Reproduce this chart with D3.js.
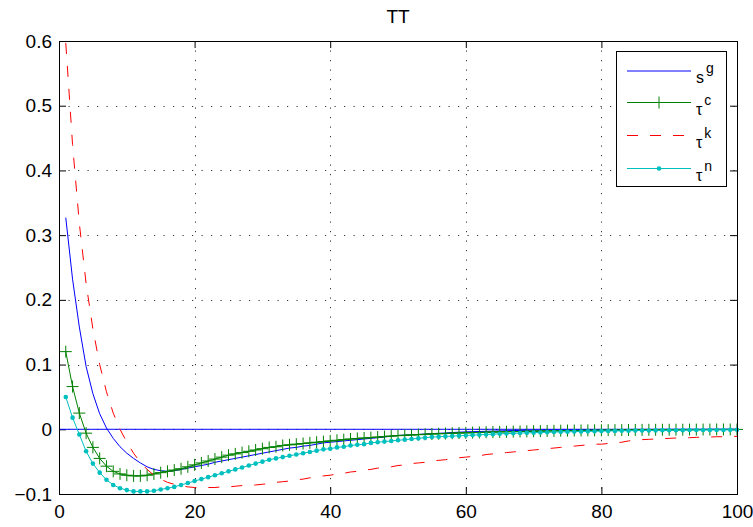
<!DOCTYPE html>
<html>
<head>
<meta charset="utf-8">
<script src="https://cdn.jsdelivr.net/npm/d3@7"></script>
<style>
  body { margin: 0; background: #fff; }
  text { font-family: "Liberation Sans", Arial, sans-serif; fill: #000; }
</style>
</head>
<body>
<div class="graph"></div>
<script>
const width = 753;
const height = 527;
const margin = { top: 41, right: 16, bottom: 33, left: 59 };

const title = "TT";
const xTicks = [0, 20, 40, 60, 80, 100];
const yTicks = [-0.1, 0, 0.1, 0.2, 0.3, 0.4, 0.5, 0.6];

// responses, periods 1..100
const sg = [
  0.327, 0.232, 0.158, 0.097, 0.055, 0.024, 0.002, -0.014, -0.027, -0.037,
  -0.045, -0.052, -0.058, -0.062, -0.064, -0.065, -0.064, -0.062, -0.06, -0.058,
  -0.056, -0.054, -0.051, -0.049, -0.047, -0.045, -0.043, -0.041, -0.039, -0.037,
  -0.035, -0.033, -0.031, -0.029, -0.028, -0.026, -0.025, -0.023, -0.021, -0.02,
  -0.019, -0.018, -0.017, -0.016, -0.015, -0.014, -0.013, -0.012, -0.0105, -0.0095,
  -0.009, -0.0085, -0.008, -0.0072, -0.0067, -0.0062, -0.0057, -0.005, -0.0045, -0.004,
  -0.0037, -0.0034, -0.0031, -0.0028, -0.0025, -0.0022, -0.002, -0.0018, -0.0016, -0.0014,
  -0.0012, -0.0011, -0.001, -0.0009, -0.0008, -0.0007, -0.0006, -0.0005, -0.0005, -0.0004,
  -0.0004, -0.0003, -0.0003, -0.0003, -0.0002, -0.0002, -0.0002, -0.0002, -0.0001, -0.0001,
  -0.0001, -0.0001, -0.0001, -0.0001, -0.0001, 0, 0, 0, 0, 0
];
const tc = [
  0.12, 0.066, 0.025, -0.006, -0.028, -0.045, -0.057, -0.065, -0.069, -0.071,
  -0.072, -0.072, -0.071, -0.069, -0.067, -0.065, -0.063, -0.061, -0.058, -0.055,
  -0.052, -0.049, -0.046, -0.043, -0.04, -0.038, -0.036, -0.034, -0.032, -0.03,
  -0.028, -0.027, -0.025, -0.024, -0.023, -0.022, -0.021, -0.02, -0.019, -0.018,
  -0.017, -0.016, -0.015, -0.0142, -0.0135, -0.0128, -0.012, -0.0112, -0.0105, -0.0098,
  -0.0093, -0.0088, -0.0083, -0.0078, -0.0073, -0.0069, -0.0065, -0.0061, -0.0058, -0.0055,
  -0.0052, -0.0049, -0.0046, -0.0043, -0.004, -0.0038, -0.0036, -0.0034, -0.0032, -0.003,
  -0.0028, -0.0026, -0.0024, -0.0022, -0.002, -0.0019, -0.0018, -0.0017, -0.0016, -0.0015,
  -0.0014, -0.0013, -0.0012, -0.0011, -0.001, -0.0009, -0.0008, -0.0008, -0.0007, -0.0007,
  -0.0006, -0.0006, -0.0005, -0.0005, -0.0004, -0.0004, -0.0003, -0.0003, -0.0003, -0.0002
];
const tk = [
  0.597, 0.44, 0.318, 0.225, 0.155, 0.1, 0.058, 0.025, 0, -0.02,
  -0.037, -0.051, -0.062, -0.071, -0.077, -0.082, -0.085, -0.087, -0.089, -0.09,
  -0.09, -0.09, -0.09, -0.089, -0.089, -0.088, -0.087, -0.087, -0.086, -0.085,
  -0.084, -0.082, -0.081, -0.08, -0.078, -0.077, -0.075, -0.074, -0.072, -0.071,
  -0.069, -0.068, -0.066, -0.065, -0.063, -0.062, -0.06, -0.059, -0.058, -0.056,
  -0.055, -0.053, -0.052, -0.051, -0.049, -0.048, -0.047, -0.045, -0.044, -0.043,
  -0.042, -0.041, -0.039, -0.038, -0.037, -0.036, -0.035, -0.034, -0.033, -0.032,
  -0.031, -0.03, -0.029, -0.028, -0.027, -0.026, -0.025, -0.024, -0.023, -0.023,
  -0.022, -0.021, -0.02, -0.018, -0.017, -0.016, -0.0155, -0.015, -0.0145, -0.014,
  -0.0135, -0.013, -0.013, -0.0125, -0.012, -0.012, -0.0115, -0.0115, -0.011, -0.011
];
const tn = [
  0.05, 0.018, -0.008, -0.034, -0.053, -0.067, -0.078, -0.086, -0.091, -0.094,
  -0.096, -0.096, -0.096, -0.095, -0.093, -0.091, -0.089, -0.086, -0.083, -0.08,
  -0.077, -0.074, -0.071, -0.068, -0.065, -0.062, -0.059, -0.056, -0.053, -0.05,
  -0.047, -0.045, -0.043, -0.041, -0.039, -0.037, -0.035, -0.033, -0.031, -0.03,
  -0.028, -0.027, -0.025, -0.024, -0.023, -0.021, -0.02, -0.019, -0.018, -0.017,
  -0.016, -0.015, -0.014, -0.013, -0.012, -0.0115, -0.011, -0.0105, -0.01, -0.0095,
  -0.009, -0.0085, -0.008, -0.0075, -0.007, -0.0066, -0.0062, -0.0058, -0.0055, -0.0052,
  -0.0049, -0.0046, -0.0043, -0.004, -0.0038, -0.0036, -0.0034, -0.0032, -0.003, -0.0028,
  -0.0026, -0.0025, -0.0023, -0.0022, -0.002, -0.0019, -0.0018, -0.0017, -0.0016, -0.0015,
  -0.0014, -0.0013, -0.0012, -0.0012, -0.0011, -0.0011, -0.001, -0.001, -0.0009, -0.0009
];
const zeroLine = [[0, 0], [100, 0]];

const series = [
  { name: "s", sup: "g", values: sg, color: "#0000ff", dash: null, marker: null },
  { name: "τ", sup: "c", values: tc, color: "#008000", dash: null, marker: "plus" },
  { name: "τ", sup: "k", values: tk, color: "#ff0000", dash: "11,12", marker: null },
  { name: "τ", sup: "n", values: tn, color: "#00bfbf", dash: null, marker: "dot" },
];

const svg = d3
  .select(".graph")
  .append("svg")
  .attr("width", width)
  .attr("height", height);

const x = d3
  .scaleLinear()
  .domain([0, 100])
  .range([margin.left, width - margin.right]);
const y = d3
  .scaleLinear()
  .domain([-0.1, 0.6])
  .range([height - margin.bottom, margin.top]);

const x0 = x.range()[0], x1 = x.range()[1];
const y0 = y.range()[0], y1 = y.range()[1];

// grid
const grid = svg.append("g").attr("stroke", "#333").attr("stroke-width", 1).attr("stroke-dasharray", "1.2,8.3");
grid
  .selectAll("line.vx")
  .data(xTicks.slice(1, -1))
  .enter()
  .append("line")
  .attr("x1", (d) => Math.round(x(d)) + 0.5)
  .attr("x2", (d) => Math.round(x(d)) + 0.5)
  .attr("y1", y1)
  .attr("y2", y0);
grid
  .selectAll("line.hy")
  .data(yTicks.slice(1, -1))
  .enter()
  .append("line")
  .attr("y1", (d) => Math.round(y(d)) + 0.5)
  .attr("y2", (d) => Math.round(y(d)) + 0.5)
  .attr("x1", x0)
  .attr("x2", x1);

// axes, ticks inside
const tickLen = 7;
const fmt = (d) => (d === 0 ? "0" : d3.format(".1f")(d));

svg
  .append("g")
  .attr("transform", "translate(0," + y0 + ")")
  .call(d3.axisBottom(x).tickValues(xTicks).tickSize(-tickLen).tickPadding(11))
  .call((g) => g.select(".domain").remove())
  .call((g) => g.selectAll("text").style("font-size", "19px").attr("font-family", null));
svg
  .append("g")
  .attr("transform", "translate(0," + y1 + ")")
  .call(d3.axisTop(x).tickValues(xTicks).tickSize(-tickLen).tickFormat(""))
  .call((g) => g.select(".domain").remove());
svg
  .append("g")
  .attr("transform", "translate(" + x0 + ",0)")
  .call(d3.axisLeft(y).tickValues(yTicks).tickSize(-tickLen).tickPadding(7).tickFormat(fmt))
  .call((g) => g.select(".domain").remove())
  .call((g) => g.selectAll("text").style("font-size", "19px").attr("font-family", null));
svg
  .append("g")
  .attr("transform", "translate(" + x1 + ",0)")
  .call(d3.axisRight(y).tickValues(yTicks).tickSize(-tickLen).tickFormat(""))
  .call((g) => g.select(".domain").remove());
svg.selectAll(".tick line").attr("stroke", "#000");

// curves
const line = d3
  .line()
  .x((d) => x(d[0]))
  .y((d) => y(d[1]));

const plot = svg.append("g");

plot
  .append("path")
  .attr("d", line(zeroLine))
  .attr("fill", "none")
  .attr("stroke", "#0000ff")
  .attr("stroke-width", 1);

series.forEach((s) => {
  const pts = s.values.map((v, i) => [i + 1, v]);
  plot
    .append("path")
    .attr("d", line(pts))
    .attr("fill", "none")
    .attr("stroke", s.color)
    .attr("stroke-width", 1)
    .attr("stroke-dasharray", s.dash);
  if (s.marker === "plus") {
    plot
      .selectAll(null)
      .data(pts)
      .enter()
      .append("path")
      .attr("d", (d) => `M${x(d[0]) - 6},${y(d[1])}h12M${x(d[0])},${y(d[1]) - 6}v12`)
      .attr("stroke", s.color)
      .attr("stroke-width", 1)
      .attr("fill", "none");
  }
  if (s.marker === "dot") {
    plot
      .selectAll(null)
      .data(pts)
      .enter()
      .append("circle")
      .attr("cx", (d) => x(d[0]))
      .attr("cy", (d) => y(d[1]))
      .attr("r", 2.3)
      .attr("fill", s.color);
  }
});

// box
svg
  .append("rect")
  .attr("x", x0 + 0.5)
  .attr("y", y1 + 0.5)
  .attr("width", x1 - x0)
  .attr("height", y0 - y1)
  .attr("fill", "none")
  .attr("stroke", "#000")
  .attr("stroke-width", 1);

// title
svg
  .append("text")
  .attr("x", (x0 + x1) / 2)
  .attr("y", 23)
  .attr("text-anchor", "middle")
  .style("font-size", "19px")
  .text(title);

// legend
const legend = svg.append("g").attr("id", "legend");
legend
  .append("rect")
  .attr("x", 616.5)
  .attr("y", 51.5)
  .attr("width", 110)
  .attr("height", 135)
  .attr("fill", "#fff")
  .attr("stroke", "#000");

const rowY = [71, 102.5, 135.5, 168.5];
series.forEach((s, i) => {
  const ly = rowY[i];
  legend
    .append("line")
    .attr("x1", 627)
    .attr("x2", 691)
    .attr("y1", ly)
    .attr("y2", ly)
    .attr("stroke", s.color)
    .attr("stroke-width", 1)
    .attr("stroke-dasharray", s.dash);
  if (s.marker === "plus") {
    legend
      .append("path")
      .attr("d", `M${659 - 6},${ly}h12M659,${ly - 6}v12`)
      .attr("stroke", s.color);
  }
  if (s.marker === "dot") {
    legend.append("circle").attr("cx", 659).attr("cy", ly).attr("r", 2.3).attr("fill", s.color);
  }
  const t = legend
    .append("text")
    .attr("x", 696)
    .attr("y", ly + 12)
    .style("font-size", "16px");
  t.append("tspan").text(s.name);
  t.append("tspan")
    .attr("dx", 2)
    .attr("dy", -10)
    .style("font-size", "14px")
    .text(s.sup);
});
</script>
</body>
</html>
